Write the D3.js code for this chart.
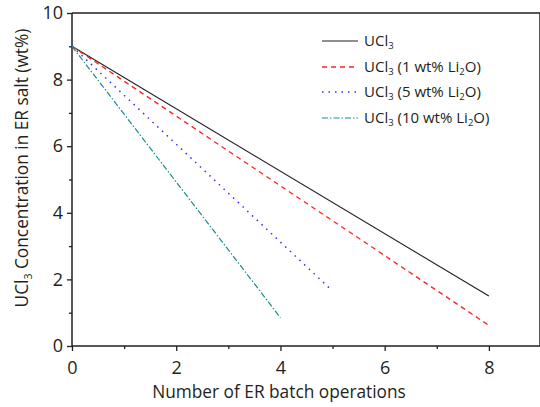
<!DOCTYPE html>
<html><head><meta charset="utf-8">
<script src="https://cdn.jsdelivr.net/npm/d3@7"></script>
<style>body{margin:0;background:#fff}svg{display:block}text{font-family:"Open Sans","Noto Sans",sans-serif;fill:#231f20}</style>
</head><body>
<svg id="c" width="540" height="407"></svg>
<script>
const seriesNames = ["UCl3", "UCl3 (1 wt% Li2O)", "UCl3 (5 wt% Li2O)", "UCl3 (10 wt% Li2O)"];
const blackX = [0, 8], blackY = [9.0, 1.5];
const redX = [0, 8], redY = [9.0, 0.62];
const blueX = [0, 5], blueY = [9.0, 1.65];
const tealX = [0, 4], tealY = [9.0, 0.85];
const xTicks = [0, 2, 4, 6, 8];
const yTicks = [0, 2, 4, 6, 8, 10];

const svg = d3.select("#c");
const m = {l: 72, r: 541, t: 13, b: 346};
const x = d3.scaleLinear().domain([0, 9]).range([m.l, m.r]);
const y = d3.scaleLinear().domain([0, 10]).range([m.b, m.t]);

// frame top/right
svg.append("line").attr("x1", m.l).attr("x2", m.r).attr("y1", m.t).attr("y2", m.t).attr("stroke", "#231f20").attr("stroke-width", 1.5);
svg.append("line").attr("x1", m.r-1).attr("x2", m.r-1).attr("y1", m.t).attr("y2", m.b).attr("stroke", "#231f20").attr("stroke-width", 1.5);

const xAxis = svg.append("g").attr("transform", `translate(0,${m.b})`)
  .call(d3.axisBottom(x).tickValues(xTicks).tickFormat(d3.format("d")).tickSize(5).tickPadding(10));
const xMinor = svg.append("g").attr("transform", `translate(0,${m.b})`)
  .call(d3.axisBottom(x).tickValues([1,3,5,7]).tickFormat("").tickSize(3));
const yAxis = svg.append("g").attr("transform", `translate(${m.l},0)`)
  .call(d3.axisLeft(y).tickValues(yTicks).tickFormat(d3.format("d")).tickSize(5).tickPadding(4));
const yMinor = svg.append("g").attr("transform", `translate(${m.l},0)`)
  .call(d3.axisLeft(y).tickValues([1,3,5,7,9]).tickFormat("").tickSize(3));
[xAxis, xMinor, yAxis, yMinor].forEach(g => {
  g.select(".domain").attr("stroke", "#231f20").attr("stroke-width", 1.5);
  g.selectAll(".tick line").attr("stroke", "#231f20").attr("stroke-width", 1.3);
  g.selectAll("text").style("font-size", "18px").attr("fill", "#231f20").style("font-family", '"Open Sans","Noto Sans",sans-serif');
});
xAxis.selectAll(".domain").remove();
xMinor.select(".domain").attr("d", `M${m.l},0H${m.r}`);
yAxis.select(".domain").remove();
yMinor.select(".domain").attr("d", `M0,${m.t}V${m.b}`);

const line = d3.line().x(d => x(d[0])).y(d => y(d[1]));
const styles = [
  {c: "#231f20", dash: null, w: 1.1},
  {c: "#ff2020", dash: "5,4", w: 1.3},
  {c: "#3030ff", dash: "1.5,5", w: 1.5},
  {c: "#1a8c8c", dash: "6,2,1.5,2", w: 1.2}
];
const data = [[blackX, blackY], [redX, redY], [blueX, blueY], [tealX, tealY]];
data.forEach((s, i) => {
  const pts = s[0].map((v, j) => [v, s[1][j]]);
  svg.append("path").attr("d", line(pts)).attr("fill", "none")
    .attr("stroke", styles[i].c).attr("stroke-width", styles[i].w)
    .attr("stroke-dasharray", styles[i].dash);
});

// legend
const legY = [41, 67, 92, 118];
seriesNames.forEach((n, i) => {
  svg.append("line").attr("x1", 322).attr("x2", 358).attr("y1", legY[i]).attr("y2", legY[i])
    .attr("stroke", styles[i].c).attr("stroke-width", styles[i].w).attr("stroke-dasharray", styles[i].dash);
  const t = svg.append("text").attr("x", 364).attr("y", legY[i] + 5).style("font-size", "15px");
  t.append("tspan").text("UCl");
  t.append("tspan").text("3").style("font-size", "9.5px").attr("dy", 3);
  if (i > 0) {
    const pct = ["", "1", "5", "10"][i];
    t.append("tspan").text(` (${pct} wt% Li`).attr("dy", -3);
    t.append("tspan").text("2").style("font-size", "9.5px").attr("dy", 3);
    t.append("tspan").text("O)").attr("dy", -3);
  }
});

// axis titles
svg.append("text").attr("x", 279).attr("y", 398).attr("text-anchor", "middle").style("font-size", "17.3px")
  .text("Number of ER batch operations");
const yt = svg.append("text").attr("transform", "translate(28,168) rotate(-90)").attr("text-anchor", "middle").style("font-size", "17.3px");
yt.append("tspan").text("UCl");
yt.append("tspan").text("3").style("font-size", "10.5px").attr("dy", 4);
yt.append("tspan").text(" Concentration in ER salt (wt%)").attr("dy", -4);
</script>
</body></html>
